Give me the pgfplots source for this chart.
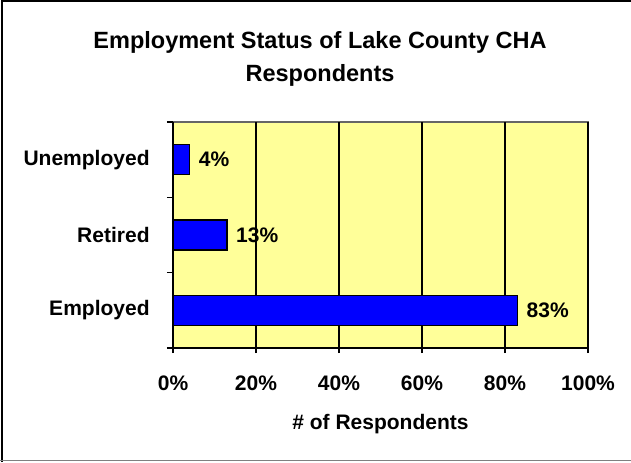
\documentclass[border=0pt]{standalone}
\usepackage{pgfplots}
\pgfplotsset{compat=1.18}
\usepackage{fontspec}
\setmainfont{Liberation Sans}
\definecolor{plotbg}{HTML}{FFFF99}
\definecolor{barblue}{HTML}{0000FF}
\begin{document}
\begin{tikzpicture}
\useasboundingbox (0,0) rectangle (315.5pt,231pt);
\draw[line width=1pt, black] (1pt,0pt) -- (1pt,230.5pt) -- (315.5pt,230.5pt);
\draw[line width=0.75pt, gray] (0pt,0.75pt) -- (315.5pt,0.75pt);
\node[align=center, font=\fontsize{11.75}{16.5}\selectfont\bfseries] at (160pt,201.5pt)
  {Employment Status of Lake County CHA\\Respondents};
\begin{axis}[
  at={(86.5pt,57pt)}, anchor=south west,
  scale only axis, width=207.5pt, height=113pt,
  xbar, bar width=15pt,
  xmin=0, xmax=100, ymin=-0.5, ymax=2.5,
  axis x line*=bottom, axis y line*=left,
  axis line style={line width=0.9pt, black},
  axis background/.style={fill=plotbg, draw=gray!80!black, line width=0.6pt},
  xtick={0,20,40,60,80,100},
  xticklabels={0\%,20\%,40\%,60\%,80\%,100\%},
  ytick={0,1,2},
  yticklabels={Employed,Retired,Unemployed},
  minor ytick={-0.5,0.5,1.5,2.5},
  tick align=outside,
  major tick length=2.5pt,
  tick style={line width=0.6pt, black},
  major y tick style={draw=none},
  minor tick length=3pt,
  xmajorgrids, grid style={line width=0.55pt, black},
  ticklabel style={font=\fontsize{10.5}{12}\selectfont\bfseries, inner sep=0pt},
  xticklabel style={anchor=center, yshift=-15pt},
  yticklabel style={anchor=east, xshift=-9pt},
  xlabel={\# of Respondents},
  xlabel style={at={(axis description cs:0.5,0)}, anchor=center, yshift=-38pt, font=\fontsize{10.5}{12}\selectfont\bfseries},
  nodes near coords={\pgfmathprintnumber[assume math mode=true]{\pgfplotspointmeta}\%},
  nodes near coords style={font=\fontsize{10.5}{12}\selectfont\bfseries, anchor=west, xshift=1pt},
  clip=false,
]
\addplot[fill=barblue, draw=black, line width=0.6pt] coordinates {(83,0) (13,1) (4,2)};
\end{axis}
\end{tikzpicture}
\end{document}
